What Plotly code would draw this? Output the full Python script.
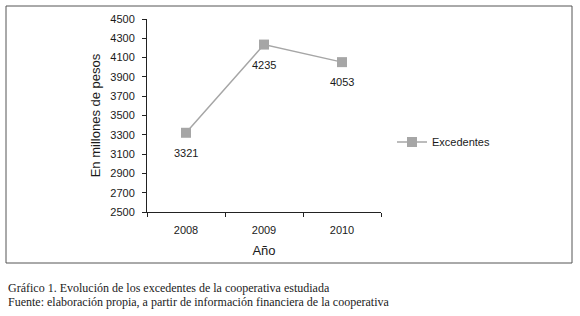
import plotly.graph_objects as go

years = ["2008", "2009", "2010"]
excedentes = [3321, 4235, 4053]
y_ticks = [2500, 2700, 2900, 3100, 3300, 3500, 3700, 3900, 4100, 4300, 4500]
series_name = "Excedentes"
caption1 = "Gráfico 1. Evolución de los excedentes de la cooperativa estudiada"
caption2 = "Fuente: elaboración propia, a partir de información financiera de la cooperativa"

W, H = 580, 316
L, R, T, B = 147, 381, 19, 212  # plot area in pixels

def px(x):
    return (x - L) / (R - L)

def py(y):
    return (B - y) / (B - T)

gray = "#a6a6a6"
txt = "#1a1a1a"
fig = go.Figure()
fig.add_trace(go.Scatter(
    x=years, y=excedentes, name=series_name, mode="lines+markers",
    line=dict(color=gray, width=1.5),
    marker=dict(symbol="square", size=10, color=gray),
))
for i, v in enumerate(excedentes):
    fig.add_annotation(x=i, y=v, text=str(v), showarrow=False, yshift=-20,
                       font=dict(size=11, color=txt))

fig.update_layout(
    width=W, height=H,
    margin=dict(l=L, r=W - R, t=T, b=H - B),
    paper_bgcolor="white", plot_bgcolor="white",
    font=dict(family="Liberation Sans", size=11, color=txt),
    showlegend=True,
    legend=dict(x=px(392), y=py(142), xanchor="left", yanchor="middle",
                font=dict(size=11), bgcolor="rgba(0,0,0,0)"),
    xaxis=dict(type="category", categoryorder="array", categoryarray=years,
               range=[-0.5, len(years) - 0.5],
               tickson="boundaries", ticks="outside", ticklen=4, tickcolor="#222",
               ticklabelstandoff=8,
               showline=True, linecolor="#222", linewidth=1, showgrid=False,
               title=dict(text="Año", standoff=10), tickfont=dict(size=11)),
    yaxis=dict(range=[2500, 4500], tickvals=y_ticks, ticks="outside", ticklen=4,
               tickcolor="#222", ticklabelstandoff=5,
               showline=True, linecolor="#222", linewidth=1, showgrid=False,
               title=dict(text="En millones de pesos", standoff=6), tickfont=dict(size=11)),
    shapes=[dict(type="rect", xref="paper", yref="paper",
                 x0=px(6), x1=px(572), y0=py(263), y1=py(6),
                 line=dict(color="#555", width=1))],
)
fig.add_annotation(text=caption1, xref="paper", yref="paper", x=px(6), y=py(288),
                   xanchor="left", yanchor="middle", showarrow=False,
                   font=dict(family="Liberation Serif", size=12, color="#222"))
fig.add_annotation(text=caption2, xref="paper", yref="paper", x=px(6), y=py(302),
                   xanchor="left", yanchor="middle", showarrow=False,
                   font=dict(family="Liberation Serif", size=12, color="#222"))

fig.write_html("out.html", config={"displayModeBar": False})
with open("out.html", encoding="utf-8") as f:
    html = f.read()
html = html.replace("<head>", "<head><style>body{margin:0;padding:0;}</style>", 1)
with open("out.html", "w", encoding="utf-8") as f:
    f.write(html)
